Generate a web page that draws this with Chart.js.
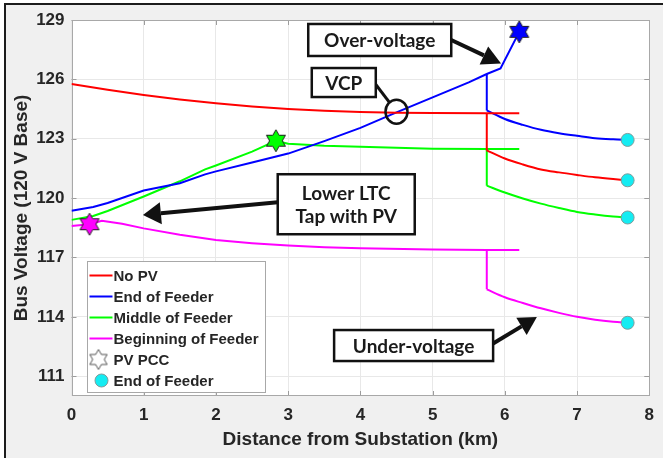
<!DOCTYPE html>
<html>
<head>
<meta charset="utf-8">
<script src="https://cdn.jsdelivr.net/npm/chart.js@4"></script>
<style>
  html, body { margin: 0; padding: 0; background: #fff; }
  #wrap { width: 663px; height: 458px; }
</style>
</head>
<body>
<div id="wrap"><canvas id="c" width="663" height="458"></canvas></div>
<script>
// Bus voltage (120 V base) along the main feeder path, km from substation
const noPvKm = [0, 0.5, 1, 1.5, 2, 2.5, 3, 3.5, 4, 4.5, 5, 5.75, 6.2];
const noPvV  = [125.77, 125.48, 125.21, 124.98, 124.79, 124.63, 124.5, 124.41, 124.35, 124.31, 124.3, 124.29, 124.29];

const endKm = [0, 0.3, 0.5, 1, 1.5, 1.85, 2, 2.5, 3, 3.5, 4, 4.5, 5, 5.5, 5.75, 5.94, 6.2];
const endV  = [119.36, 119.55, 119.75, 120.38, 120.75, 121.2, 121.35, 121.8, 122.25, 122.88, 123.55, 124.33, 125.09, 125.85, 126.27, 126.55, 128.4];

const midKm = [0, 0.3, 0.5, 1, 1.5, 1.85, 2, 2.5, 2.83, 3, 3.5, 4, 4.5, 5, 5.75, 6.2];
const midV  = [118.9, 119.1, 119.35, 120.08, 120.85, 121.45, 121.65, 122.35, 122.9, 122.75, 122.65, 122.6, 122.55, 122.5, 122.48, 122.48];

const begKm = [0, 0.25, 0.42, 0.7, 1, 1.5, 2, 2.5, 3, 3.5, 4, 5, 5.75, 6.2];
const begV  = [118.59, 118.68, 118.86, 118.7, 118.47, 118.15, 117.88, 117.72, 117.6, 117.52, 117.46, 117.4, 117.38, 117.38];

// Lateral beyond the regulator at 5.75 km (first point = value before the step)
const lateralKm     = [5.75, 5.75, 6.0, 6.25, 6.5, 6.75, 7.0, 7.25, 7.5, 7.7];
const noPvLateralV  = [124.29, 122.41, 122.0, 121.7, 121.45, 121.3, 121.17, 121.05, 120.96, 120.9];
const endLateralV   = [126.27, 124.43, 124.0, 123.7, 123.45, 123.28, 123.15, 123.03, 122.97, 122.94];
const midLateralV   = [122.48, 120.63, 120.28, 119.98, 119.72, 119.5, 119.3, 119.17, 119.07, 119.02];
const begLateralV   = [117.38, 115.39, 114.99, 114.7, 114.43, 114.2, 114.0, 113.85, 113.75, 113.7];

// PV point of common coupling for each PV location (beginning, middle, end)
const pccKm = [0.25, 2.83, 6.2];
const pccV  = [118.68, 122.9, 128.4];

const seriesNames = ['No PV', 'End of Feeder', 'Middle of Feeder', 'Beginning of Feeder'];
const markerNames = ['PV PCC', 'End of Feeder'];
const xTicks = [0, 1, 2, 3, 4, 5, 6, 7, 8];
const yTicks = [111, 114, 117, 120, 123, 126, 129];

const RED = '#ff0000', BLUE = '#0000ff', GREEN = '#00ff00', MAGENTA = '#ff00ff', CYAN = '#14ecf2';
const seriesColors = [RED, BLUE, GREEN, MAGENTA];
const pccColors = [MAGENTA, GREEN, BLUE];

const toPts = (xs, ys) => xs.map((x, i) => ({ x, y: ys[i] }));

// six-pointed star marker
function hexagram(fill, stroke, R) {
  const s = Math.ceil(2 * R + 4);
  const c = document.createElement('canvas');
  c.width = s; c.height = s;
  const g = c.getContext('2d');
  const cx = s / 2, cy = s / 2;
  g.beginPath();
  for (let i = 0; i < 12; i++) {
    const a = -Math.PI / 2 + i * Math.PI / 6;
    const r = i % 2 === 0 ? R : R / Math.sqrt(3);
    g.lineTo(cx + r * Math.cos(a), cy + r * Math.sin(a));
  }
  g.closePath();
  g.fillStyle = fill; g.fill();
  g.lineWidth = 1; g.strokeStyle = stroke; g.stroke();
  return c;
}
const pccStars = pccColors.map(c => hexagram(c, '#202020', 11));
const legendStar = hexagram('#ffffff', '#555555', 10);

const mains = [[noPvKm, noPvV], [endKm, endV], [midKm, midV], [begKm, begV]];
const laterals = [noPvLateralV, endLateralV, midLateralV, begLateralV];

const datasets = [
  {
    label: markerNames[0], data: toPts(pccKm, pccV), showLine: false,
    pointStyle: pccStars, pointRadius: 11, clip: false, order: 0
  },
  {
    label: markerNames[1],
    data: laterals.map(v => ({ x: lateralKm[lateralKm.length - 1], y: v[v.length - 1] })),
    showLine: false, pointStyle: 'circle', pointRadius: 6.5,
    backgroundColor: CYAN, borderColor: '#7d9c9c', borderWidth: 1, clip: false, order: 0
  }
];
const lineStyle = color => ({ showLine: true, pointRadius: 0, borderColor: color, borderWidth: 2, fill: false, order: 1 });
mains.forEach(([xs, ys], i) => {
  datasets.push(Object.assign({ label: seriesNames[i], data: toPts(xs, ys), tension: 0 }, lineStyle(seriesColors[i])));
  const lat = toPts(lateralKm, laterals[i]);
  // vertical step at the regulator, then the smooth lateral profile
  datasets.push(Object.assign({ label: seriesNames[i] + ' step', data: lat.slice(0, 2), tension: 0 }, lineStyle(seriesColors[i])));
  datasets.push(Object.assign({ label: seriesNames[i] + ' lateral', data: lat.slice(1), cubicInterpolationMode: 'monotone' }, lineStyle(seriesColors[i])));
});

// figure background, plot box, inward tick marks
const framePlugin = {
  id: 'frame',
  beforeDraw(chart) {
    const { ctx, chartArea: a, width, height } = chart;
    ctx.save();
    ctx.fillStyle = '#ffffff';
    ctx.fillRect(0, 0, width, height);
    ctx.fillStyle = '#f0f0f0';
    ctx.fillRect(5, 4, width - 5, height - 4);
    ctx.strokeStyle = '#1c1c1c';
    ctx.lineWidth = 2;
    ctx.beginPath();
    ctx.moveTo(5, height); ctx.lineTo(5, 4); ctx.lineTo(width, 4);
    ctx.stroke();
    ctx.fillStyle = '#ffffff';
    ctx.fillRect(a.left, a.top, a.width, a.height);
    ctx.restore();
  },
  beforeDatasetsDraw(chart) {
    const { ctx, chartArea: a, scales: { x, y } } = chart;
    ctx.save();
    ctx.strokeStyle = '#9c9c9c';
    ctx.lineWidth = 1;
    ctx.beginPath();
    xTicks.forEach(v => {
      const px = Math.round(x.getPixelForValue(v)) + 0.5;
      ctx.moveTo(px, a.bottom); ctx.lineTo(px, a.bottom - 5);
      ctx.moveTo(px, a.top); ctx.lineTo(px, a.top + 5);
    });
    yTicks.forEach(v => {
      const py = Math.round(y.getPixelForValue(v)) + 0.5;
      ctx.moveTo(a.left, py); ctx.lineTo(a.left + 5, py);
      ctx.moveTo(a.right, py); ctx.lineTo(a.right - 5, py);
    });
    ctx.stroke();
    ctx.strokeStyle = '#a8a8a8';
    ctx.strokeRect(Math.round(a.left) + 0.5, Math.round(a.top) + 0.5,
                   Math.round(a.width) - 1, Math.round(a.height) - 1);
    ctx.restore();
  }
};

// callout boxes with arrows
function calloutBox(ctx, cx, cy, w, h, lines, size) {
  ctx.fillStyle = '#ffffff';
  ctx.fillRect(cx - w / 2, cy - h / 2, w, h);
  ctx.lineWidth = 2.5;
  ctx.strokeStyle = '#111111';
  ctx.strokeRect(cx - w / 2, cy - h / 2, w, h);
  ctx.fillStyle = '#1a1a1a';
  ctx.font = 'bold ' + size + 'px Lato, "Open Sans", sans-serif';
  ctx.textAlign = 'center';
  ctx.textBaseline = 'middle';
  const lh = size * 1.22;
  lines.forEach((t, i) => ctx.fillText(t, cx, cy + (i - (lines.length - 1) / 2) * lh + 1));
}
function arrow(ctx, x0, y0, x1, y1, len, half) {
  const ang = Math.atan2(y1 - y0, x1 - x0);
  const bx = x1 - len * Math.cos(ang), by = y1 - len * Math.sin(ang);
  ctx.strokeStyle = '#111111';
  ctx.lineWidth = 4;
  ctx.beginPath(); ctx.moveTo(x0, y0); ctx.lineTo(bx, by); ctx.stroke();
  ctx.fillStyle = '#111111';
  ctx.beginPath();
  ctx.moveTo(x1, y1);
  ctx.lineTo(bx + half * Math.sin(ang), by - half * Math.cos(ang));
  ctx.lineTo(bx - half * Math.sin(ang), by + half * Math.cos(ang));
  ctx.closePath(); ctx.fill();
}
const calloutPlugin = {
  id: 'callouts',
  afterDatasetsDraw(chart) {
    const { ctx, scales: { x, y } } = chart;
    const X = v => x.getPixelForValue(v), Y = v => y.getPixelForValue(v);
    ctx.save();
    // Over-voltage
    {
      const cx = X(4.268), cy = Y(127.99), w = 143, h = 32;
      arrow(ctx, cx + w / 2, cy, X(5.948), Y(126.8), 19, 10);
      calloutBox(ctx, cx, cy, w, h, ['Over-voltage'], 19);
    }
    // VCP
    {
      const cx = X(3.77), cy = Y(125.84), w = 64, h = 29;
      const ox = X(4.5), oy = Y(124.37), r = 11;
      const ang = Math.atan2(oy - (cy + 2), ox - (cx + w / 2));
      ctx.strokeStyle = '#111111'; ctx.lineWidth = 3;
      ctx.beginPath();
      ctx.moveTo(cx + w / 2, cy + 2);
      ctx.lineTo(ox - r * Math.cos(ang), oy - r * Math.sin(ang));
      ctx.stroke();
      ctx.lineWidth = 2.5;
      ctx.beginPath(); ctx.ellipse(ox, oy, r, r + 1, 0, 0, Math.PI * 2); ctx.stroke();
      calloutBox(ctx, cx, cy, w, h, ['VCP'], 19);
    }
    // Lower LTC tap
    {
      const cx = X(3.804), cy = Y(119.69), w = 137, h = 60;
      arrow(ctx, cx - w / 2, cy - 2, X(0.989), Y(119.15), 18, 11);
      calloutBox(ctx, cx, cy, w, h, ['Lower LTC', 'Tap with PV'], 19);
    }
    // Under-voltage
    {
      const cx = X(4.737), cy = Y(112.55), w = 159, h = 31;
      arrow(ctx, cx + w / 2, cy - 2, X(6.444), Y(113.99), 18, 10);
      calloutBox(ctx, cx, cy, w, h, ['Under-voltage'], 19);
    }
    ctx.restore();
  }
};

// legend box inside the plot, lower left
const legendPlugin = {
  id: 'insideLegend',
  afterDraw(chart) {
    const { ctx, chartArea: a } = chart;
    const w = 178, h = 131;
    const left = Math.round(a.left + 15) + 0.5, top = Math.round(a.bottom - 4 - h) + 0.5;
    ctx.save();
    ctx.fillStyle = '#ffffff';
    ctx.fillRect(left, top, w, h);
    ctx.strokeStyle = '#a8a8a8'; ctx.lineWidth = 1;
    ctx.strokeRect(left, top, w, h);
    ctx.font = 'bold 15px "Liberation Sans", Arial, sans-serif';
    ctx.textAlign = 'left'; ctx.textBaseline = 'middle';
    const rowY = i => top + 14 + i * 21;
    const labels = seriesNames.concat(markerNames);
    labels.forEach((t, i) => {
      const yy = rowY(i);
      if (i < seriesNames.length) {
        ctx.strokeStyle = seriesColors[i]; ctx.lineWidth = 2;
        ctx.beginPath(); ctx.moveTo(left + 2, yy); ctx.lineTo(left + 25, yy); ctx.stroke();
      } else if (i === seriesNames.length) {
        ctx.drawImage(legendStar, left + 11 - legendStar.width / 2, yy - legendStar.height / 2);
      } else {
        ctx.fillStyle = CYAN; ctx.strokeStyle = '#7d9c9c'; ctx.lineWidth = 1;
        ctx.beginPath(); ctx.arc(left + 14, yy, 6.5, 0, Math.PI * 2); ctx.fill(); ctx.stroke();
      }
      ctx.fillStyle = '#262626';
      ctx.fillText(t, left + 26, yy + 1);
    });
    ctx.restore();
  }
};

const tickFont = { family: '"Liberation Sans", Arial, sans-serif', weight: 'bold', size: 17 };
const titleFont = { family: '"Liberation Sans", Arial, sans-serif', weight: 'bold', size: 19 };

new Chart(document.getElementById('c'), {
  type: 'scatter',
  data: { datasets },
  options: {
    responsive: false,
    animation: false,
    events: [],
    layout: { padding: { top: 20, right: 10.5, left: 0, bottom: 0 } },
    plugins: { legend: { display: false }, tooltip: { enabled: false } },
    scales: {
      x: {
        type: 'linear', min: 0, max: 8,
        afterBuildTicks: s => { s.ticks = xTicks.map(v => ({ value: v })); },
        ticks: { color: '#262626', font: tickFont, padding: 9, maxRotation: 0 },
        grid: { color: '#e8e8e8', drawTicks: false },
        border: { display: false },
        title: { display: true, text: 'Distance from Substation (km)', color: '#262626', font: titleFont, padding: { top: 0, bottom: 7 } },
        afterFit: s => { s.height = 62; }
      },
      y: {
        type: 'linear', min: 110, max: 129,
        afterBuildTicks: s => { s.ticks = yTicks.map(v => ({ value: v })); },
        ticks: { color: '#262626', font: tickFont, padding: 7 },
        grid: { color: '#e8e8e8', drawTicks: false },
        border: { display: false },
        title: { display: true, text: 'Bus Voltage (120 V Base)', color: '#262626', font: titleFont, padding: { top: 10, bottom: 0 } },
        afterFit: s => { s.width = 71.5; }
      }
    }
  },
  plugins: [framePlugin, calloutPlugin, legendPlugin]
});
</script>
</body>
</html>
